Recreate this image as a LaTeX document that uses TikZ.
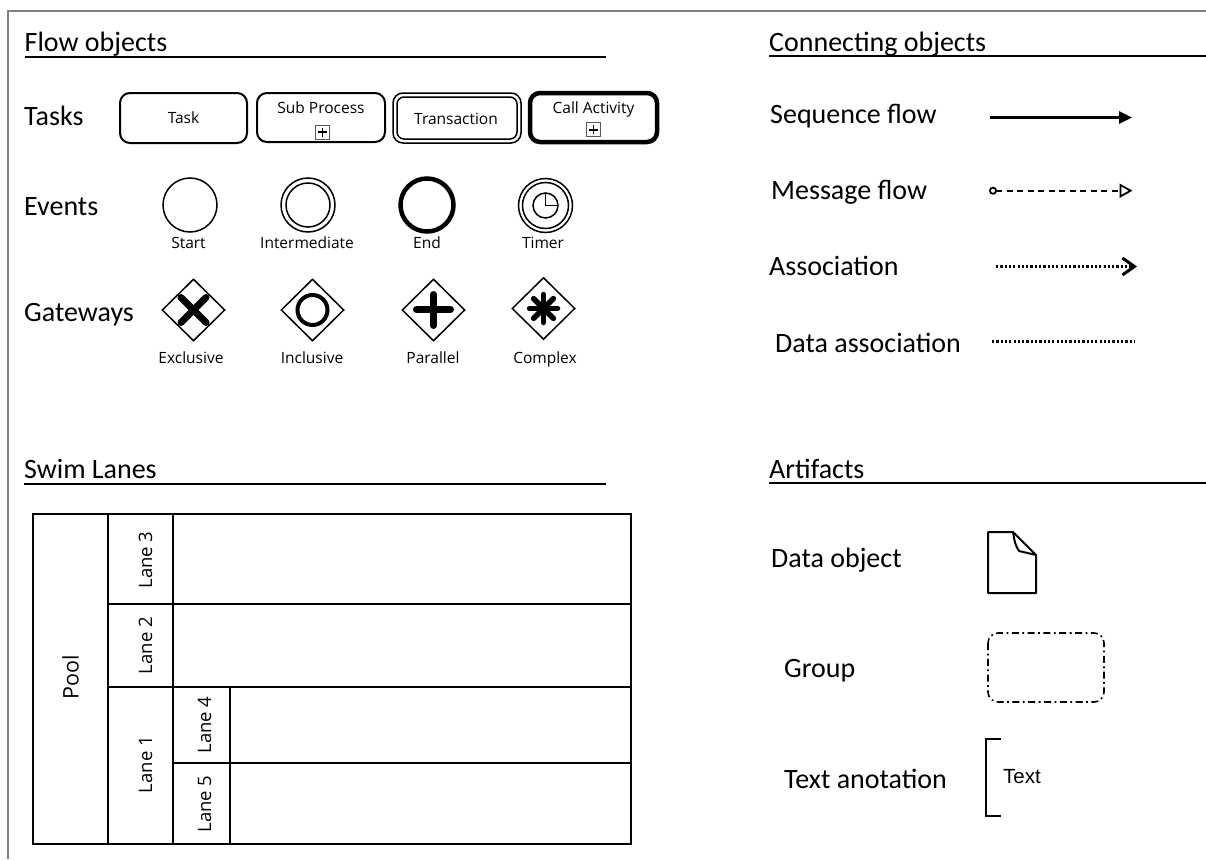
\documentclass[tikz,border=0pt]{standalone}
\usepackage{fontspec}
\setmainfont{Carlito}
\newfontfamily\osans{Open Sans}
\newfontfamily\lsans{Liberation Sans}
\usetikzlibrary{arrows.meta,shapes.geometric,calc}
\definecolor{framegray}{RGB}{128,128,128}
\begin{document}
\begin{tikzpicture}[x=1pt,y=-1pt,
  big/.style={font=\fontsize{28}{32}\selectfont, anchor=base west, inner sep=0pt},
  small/.style={font=\osans\fontsize{15.5}{18}\selectfont, anchor=base, inner sep=0pt},
  lanetxt/.style={font=\osans\fontsize{18.5}{20}\selectfont, rotate=90, inner sep=0pt},
  hrule/.style={line width=2pt},
  taskbox/.style={draw, rounded corners=10pt, line width=2pt, inner sep=0pt},
  plusbox/.style={draw=black!65, line width=0.8pt, fill=white, minimum size=14pt, inner sep=0pt},
  plusline/.style={line width=1.8pt},
  ev/.style={circle, draw, line width=1.5pt, minimum size=54pt, inner sep=0pt},
  gw/.style={diamond, draw, line width=1.5pt, minimum width=63pt, minimum height=62pt, inner sep=0pt},
  gwmark/.style={line width=7pt, line cap=round},
  lanes/.style={line width=2.5pt},
  dotline/.style={line width=2.5pt, dash pattern=on 2.2pt off 2.1pt},
]
\useasboundingbox (0,0) rectangle (1206,859);
\fill[white] (0,0) rectangle (1206,859);
\draw[framegray, line width=2pt] (7.5,859) -- (7.5,11) -- (1206,11);

% ---------- headers ----------
\node[big] (hflow) at (24.5,51.5) {Flow objects};
\draw[hrule] (24.5,57) -- (606,57);
\node[big] (hconn) at (769,51.5) {Connecting objects};
\draw[hrule] (769,56.5) -- (1206,56.5);
\node[big] (hswim) at (24,478.5) {Swim Lanes};
\draw[hrule] (24,484) -- (606,484);
\node[big] (hart) at (769,478.5) {Artifacts};
\draw[hrule] (769,483) -- (1206,483);

% ---------- tasks ----------
\node[big] (ltasks) at (24,125.5) {Tasks};
\node[taskbox, minimum width=127pt, minimum height=50pt] (task) at (183.5,118) {};
\node[small] (tasktxt) at (183.5,123.3) {Task};

\node[taskbox, minimum width=128pt, minimum height=49pt] (sub) at (321,117.5) {};
\node[small] (subtxt) at (321,113) {Sub Process};
\node[plusbox] (subplus) at (322.5,132) {};
\draw[plusline] (318,132) -- (327,132);
\draw[plusline] (322.5,127.5) -- (322.5,136.5);

\node[taskbox, line width=1.5pt, minimum width=128pt, minimum height=50pt] (trans) at (457,118) {};
\node[draw, rounded corners=7pt, line width=1.5pt, inner sep=0pt, minimum width=120pt, minimum height=42pt] (transin) at (457,118) {};
\node[small] (transtxt) at (456,124) {Transaction};

\node[taskbox, line width=4.5pt, minimum width=127pt, minimum height=49pt] (call) at (593.5,117.5) {};
\node[small] (calltxt) at (593.5,113.3) {Call Activity};
\node[plusbox] (callplus) at (593.5,129.8) {};
\draw[plusline] (589,129.8) -- (598,129.8);
\draw[plusline] (593.5,125.3) -- (593.5,134.3);

% ---------- events ----------
\node[big] (levents) at (24,215.5) {Events};
\node[ev] (start) at (190,205) {};
\node[small] (starttxt) at (188.5,248) {Start};
\node[ev] (inter) at (308,205) {};
\node[circle, draw, line width=1.5pt, minimum size=44pt, inner sep=0pt] (interin) at (308,205) {};
\node[small] (intertxt) at (307,248) {Intermediate};
\node[ev, line width=4.5pt, minimum size=53pt] (endev) at (427,205) {};
\node[small] (endtxt) at (427,248) {End};
\node[ev] (timer) at (545.5,205.5) {};
\node[circle, draw, line width=1.5pt, minimum size=46pt, inner sep=0pt] (timer2) at (545.5,205.5) {};
\node[circle, draw, line width=1.5pt, minimum size=25pt, inner sep=0pt] (clock) at (545.5,205.5) {};
\draw[line width=1.5pt] (545.5,193.5) -- (clock.center) -- (557.5,205.5);
\node[small] (timertxt) at (543,248) {Timer};

% ---------- gateways ----------
\node[big] (lgate) at (24,321) {Gateways};
\node[gw] (excl) at (193.5,310) {};
\draw[gwmark] (181,297.5) -- (206,322.5);
\draw[gwmark] (181,322.5) -- (206,297.5);
\node[small] (excltxt) at (191,363) {Exclusive};

\node[gw] (incl) at (312.5,310) {};
\draw[line width=4pt] (incl.center) circle[radius=15pt];
\node[small] (incltxt) at (312,363) {Inclusive};

\node[gw] (para) at (433.5,310) {};
\draw[gwmark] (416.5,309.5) -- (450.5,309.5);
\draw[gwmark] (433.5,294.5) -- (433.5,325.5);
\node[small] (paratxt) at (433,363) {Parallel};

\node[gw] (cplx) at (543.5,308.5) {};
\foreach \a in {0,45,90,135}{
  \draw[line width=5.5pt, line cap=round] ($(cplx.center)+(\a:14)$) -- ($(cplx.center)+(\a+180:14)$);
}
\fill (cplx.center) circle[radius=7pt];
\node[small] (cplxtxt) at (545,363) {Complex};

% ---------- connecting objects ----------
\node[big] (seqlbl) at (770,123.3) {Sequence flow};
\coordinate (sf1) at (990,117.5);
\coordinate (sf2) at (1132,117.5);
\draw[line width=2.5pt, -{Triangle[length=13pt,width=12pt]}] (sf1) -- (sf2);

\node[big] (msglbl) at (771,199.3) {Message flow};
\coordinate (mf1) at (989,190.7);
\coordinate (mf2) at (1132.5,190.7);
\draw[line width=1.8pt, dash pattern=on 6pt off 4.5pt,
  {Circle[open,length=8pt,width=8pt,fill=white]}-{Triangle[open,length=13pt,width=14pt,fill=white]}] (mf1) -- (mf2);

\node[big] (asslbl) at (769,275) {Association};
\coordinate (as1) at (996,266.5);
\coordinate (as2) at (1137,266.5);
\draw[dotline, -{Straight Barb[length=12pt,width=17pt,line width=3pt]}] (as1) -- (as2);

\node[big] (dalbl) at (775,352.7) {Data association};
\coordinate (da1) at (992,341.5);
\coordinate (da2) at (1134,341.5);
\draw[dotline] (da1) -- (da2);

% ---------- swim lanes ----------
\draw[lanes] (33,514) rectangle (631,844);
\draw[lanes] (108,514) -- (108,844);
\draw[lanes] (173,514) -- (173,844);
\draw[lanes] (230,687) -- (230,844);
\draw[lanes] (108,604) -- (631,604);
\draw[lanes] (108,687) -- (631,687);
\draw[lanes] (173,763) -- (631,763);
\node[lanetxt, font=\osans\fontsize{21.5}{24}\selectfont] (pool) at (70.5,677) {Pool};
\node[lanetxt] (lane3) at (145.5,560) {Lane 3};
\node[lanetxt] (lane2) at (145.5,645.5) {Lane 2};
\node[lanetxt] (lane1) at (145.5,764.5) {Lane 1};
\node[lanetxt] (lane4) at (204.5,725) {Lane 4};
\node[lanetxt] (lane5) at (204.5,804) {Lane 5};

% ---------- artifacts ----------
\node[big] (dolbl) at (771,567.7) {Data object};
\draw[line width=2pt, line join=round] (988,532) -- (1013,532) -- (1036,555) -- (1036,593) -- (988,593) -- cycle;
\draw[line width=2pt, line join=round] (1013,532) .. controls (1015,544) .. (1019,551) -- (1036,555);

\node[big] (grplbl) at (784,677) {Group};
\draw[line width=1.6pt, dash pattern=on 7pt off 3.5pt on 1.8pt off 3.5pt, rounded corners=10pt] (988,633) rectangle (1104,702);

\node[big] (talbl) at (784,788) {Text anotation};
\draw[line width=2.2pt] (1001,739) -- (986,739) -- (986,816) -- (1001,816);
\node[font=\lsans\fontsize{20.5}{23}\selectfont, anchor=base west, inner sep=0pt] (tatxt) at (1003,783) {Text};
\end{tikzpicture}
\end{document}
